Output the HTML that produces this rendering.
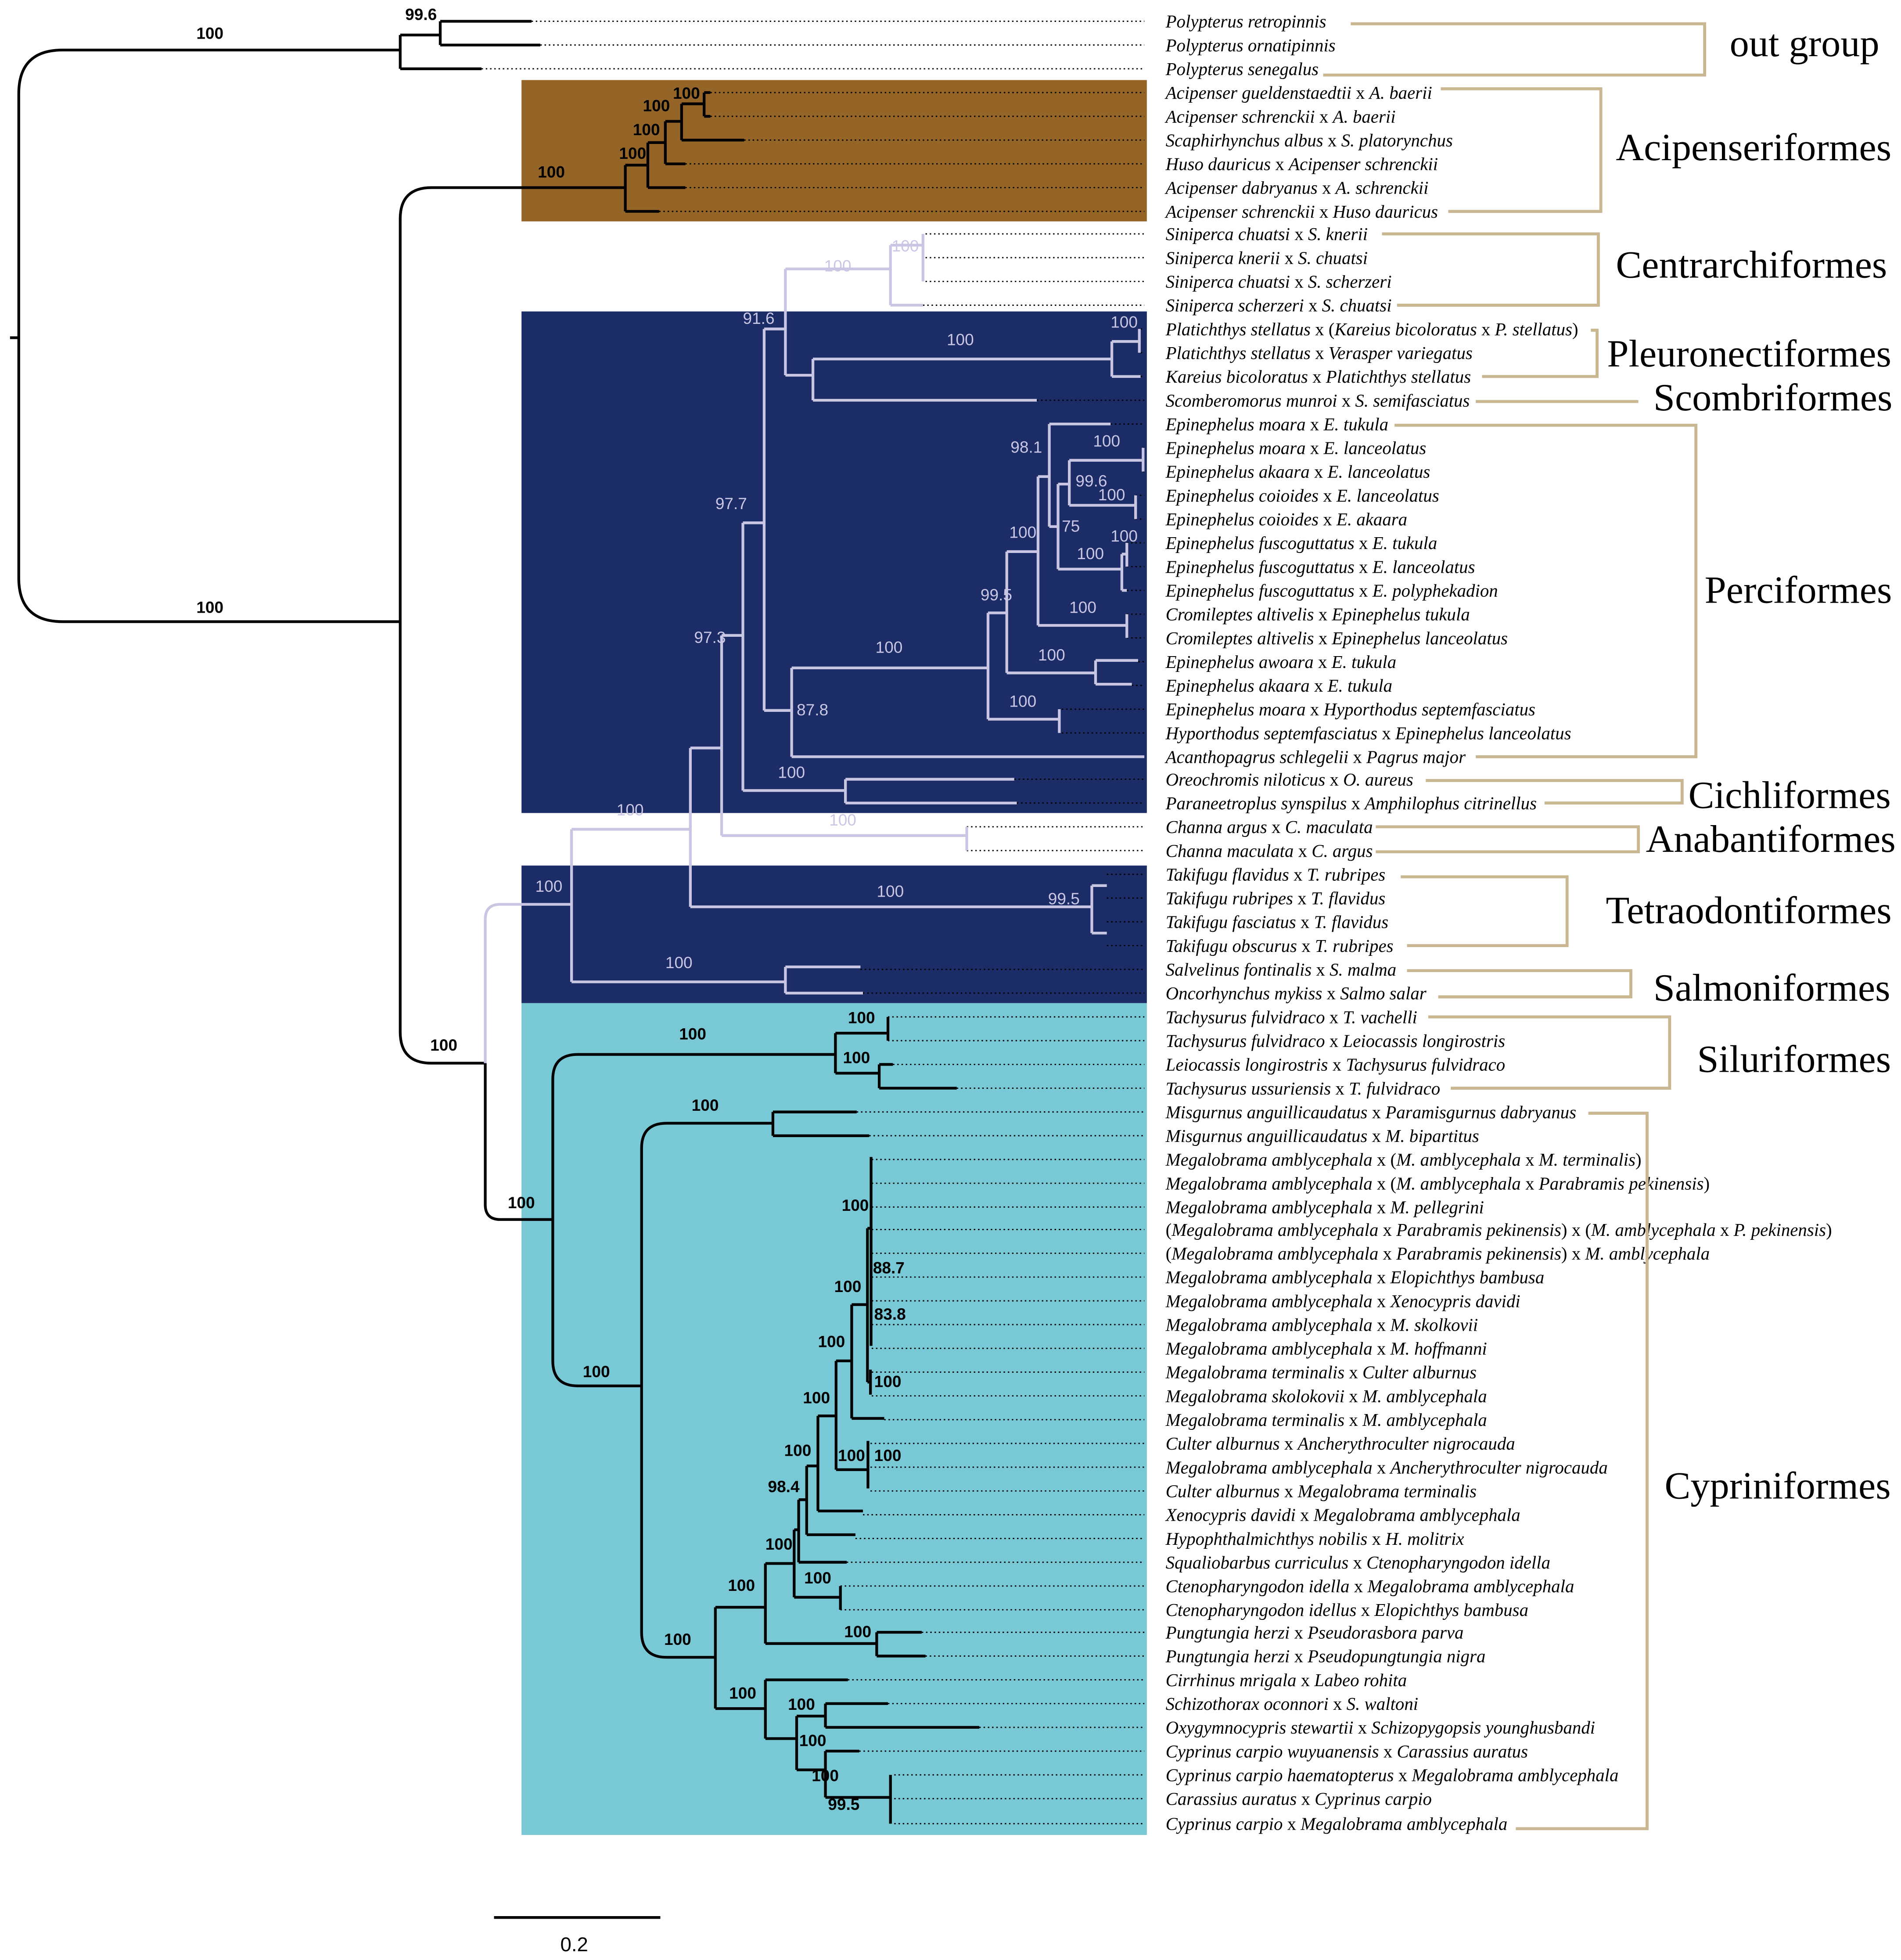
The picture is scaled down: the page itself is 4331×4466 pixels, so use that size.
<!DOCTYPE html>
<html><head><meta charset="utf-8"><style>
html,body{margin:0;padding:0;background:#fff}
svg{display:block}
.t{font-family:"Liberation Serif",serif;font-size:14.35px;font-style:italic}
.t tspan.x{font-style:normal}
.g{font-family:"Liberation Serif",serif;font-size:31px}
.b{font-family:"Liberation Sans",sans-serif;font-size:13px;font-weight:bold;fill:#000}
.l{font-family:"Liberation Sans",sans-serif;font-size:13px;fill:#cac7e6}
.k{fill:none;stroke:#000;stroke-width:2.2}
.v{fill:none;stroke:#c9c6e4;stroke-width:2.2}
.d{fill:none;stroke:#000;stroke-width:1;stroke-dasharray:1.2 2.2}
.br{fill:none;stroke:#c9b792;stroke-width:2.4}
</style></head><body>
<svg width="4331" height="4466" viewBox="0 0 1520 1567" preserveAspectRatio="none" xmlns="http://www.w3.org/2000/svg">
<rect x="417" y="64" width="500" height="113" fill="#956427"/>
<rect x="417" y="249" width="500" height="401" fill="#1c2c66"/>
<rect x="417" y="692" width="500" height="110" fill="#1c2c66"/>
<rect x="417" y="802" width="500" height="665" fill="#78c8d6"/>

<path class="d" d="M425 17H915M432 36H915M385 55H915M568 74H915M568 93H915M595 112H915M548 131H915M548 150H915M527 169H915M740 187H915M740 206H915M740 225H915M738 244H915M912 263H915M912 282H915M912 301H915M829 320H915M888 339H915M914 358H915M914 377H915M908 396H915M908 415H915M901 434H915M901 453H915M901 472H915M901 491H915M901 510H915M910 529H915M905 548H915M849 567H915M849 586H915M811 623H915M813 642H915M773 661H915M773 680H915M885 699H915M885 718H915M885 737H915M885 756H915M688 775H915M690 794H915M710 813H915M710 832H915M714 851H915M765 870H915M685 889H915M695 908H915M697 927H915M697 946H915M697 965H915M697 983H915M697 1002H915M697 1021H915M697 1040H915M697 1059H915M697 1078H915M697 1097H915M697 1116H915M707 1135H915M696 1154H915M696 1173H915M696 1192H915M690 1211H915M684 1230H915M677 1249H915M672 1268H915M672 1287H915M737 1305H915M740 1324H915M678 1343H915M710 1362H915M783 1381H915M687 1400H915M715 1419H915M715 1438H915M715 1458H915"/>

<path class="k" d="M8 270H15M320 40H50Q15 40 15 75V462Q15 497 50 497H320"/>
<path class="k" d="M320 28V55M320 28H352M352 17V36M352 17H425M352 36H432M320 55H385"/>
<path class="k" d="M500 150H345Q320 150 320 175V825Q320 850 345 850H388M388 850V963Q388 975 400 975H442"/>
<path class="k" d="M500 132V169M500 169H527M500 132H518M518 114V150M518 150H548M518 114H532M532 97V131M532 131H548M532 97H545M545 83V112M545 112H595M545 83H563M563 74V93M563 74H568M563 93H568"/>
<path class="k" d="M668 843H462Q442 843 442 863V1088Q442 1108 462 1108H513M668 826V858M668 826H710M710 813V832M668 858H703M703 851V870M703 851H714M703 870H765"/>
<path class="k" d="M618 898H533Q513 898 513 918V1305Q513 1325 533 1325H572M618 889V908M618 889H685M618 908H695"/>
<path class="k" d="M572 1285V1366M572 1285H612M612 1250V1314M612 1250H635M612 1314H701M701 1305V1324M701 1305H737M701 1324H740M635 1223V1277M635 1223H638.6M635 1277H672M672 1268V1287M638.6 1199V1249M638.6 1249H677M638.6 1199H645M645 1172V1227M645 1227H684M645 1172H654M654 1132V1208M654 1208H690M654 1132H668.5M668.5 1088V1175M668.5 1175H694M694 1152V1190M668.5 1088H681M681 1043V1134M681 1134H707M681 1043H693.6M693.6 982V1105M693.6 1105H696M696 1095V1115M693.6 982H696.5M696.5 925V1076"/>
<path class="k" d="M572 1366H612M612 1343V1390M612 1343H678M612 1390H637M637 1372V1415M637 1372H660M660 1362V1381M660 1362H710M660 1381H783M637 1415H660M660 1400V1437M660 1400H687M660 1437H712M712 1419V1458"/>

<path class="v" d="M457 723H400Q388 723 388 735V850M457 663V785M457 663H552M457 785H628M628 773V794M628 773H688M628 794H690"/>
<path class="v" d="M552 598V725M552 725H873M873 708V746M873 708H885M873 746H885M552 598H577M577 508V668M577 668H773M773 661V680M577 508H594M594 418V632M594 632H676M676 623V642M676 623H811M676 642H813M594 418H611M611 263V568"/>
<path class="v" d="M611 263H628M628 215V300M628 215H712M712 196V244M712 244H738M712 196H738M738 187V225M628 300H650M650 287V320M650 320H829M650 287H889M889 273V301M889 301H912M889 273H911M911 263V282"/>
<path class="v" d="M611 568H633M633 534V605M633 605H915M633 534H790M790 490V575M790 575H847M847 567V586M790 490H805M805 441V538M805 538H876M876 528V547M876 528H910M876 547H905M805 441H830M830 381V500M830 500H901M901 491V510M830 381H839M839 339V421M839 339H888M839 421H846M846 387V455M846 455H897M897 443V472M897 472H901M897 443H901M901 434V453M846 387H855M855 368V404M855 368H914M914 358V377M855 404H908M908 396V415"/>

<text class="b" x="157" y="31">100</text>
<text class="b" x="324" y="16">99.6</text>
<text class="b" x="157" y="490">100</text>
<text class="b" x="538" y="79">100</text>
<text class="b" x="514" y="89">100</text>
<text class="b" x="506" y="108">100</text>
<text class="b" x="495" y="127">100</text>
<text class="b" x="430" y="142">100</text>
<text class="b" x="344" y="840">100</text>
<text class="b" x="406" y="966">100</text>
<text class="b" x="543" y="831">100</text>
<text class="b" x="678" y="818">100</text>
<text class="b" x="674" y="850">100</text>
<text class="b" x="553" y="888">100</text>
<text class="b" x="466" y="1101">100</text>
<text class="b" x="531" y="1315">100</text>
<text class="b" x="673" y="968">100</text>
<text class="b" x="698" y="1018">88.7</text>
<text class="b" x="667" y="1033">100</text>
<text class="b" x="699" y="1055">83.8</text>
<text class="b" x="654" y="1077">100</text>
<text class="b" x="699" y="1109">100</text>
<text class="b" x="642" y="1122">100</text>
<text class="b" x="670" y="1168">100</text>
<text class="b" x="699" y="1168">100</text>
<text class="b" x="627" y="1164">100</text>
<text class="b" x="614" y="1193">98.4</text>
<text class="b" x="612" y="1239">100</text>
<text class="b" x="643" y="1266">100</text>
<text class="b" x="582" y="1272">100</text>
<text class="b" x="675" y="1309">100</text>
<text class="b" x="583" y="1358">100</text>
<text class="b" x="630" y="1367">100</text>
<text class="b" x="639" y="1396">100</text>
<text class="b" x="649" y="1424">100</text>
<text class="b" x="662" y="1447">99.5</text>

<text class="l" x="713" y="201">100</text>
<text class="l" x="659" y="217">100</text>
<text class="l" x="594" y="259">91.6</text>
<text class="l" x="888" y="262">100</text>
<text class="l" x="757" y="276">100</text>
<text class="l" x="808" y="362">98.1</text>
<text class="l" x="874" y="357">100</text>
<text class="l" x="860" y="389">99.6</text>
<text class="l" x="878" y="400">100</text>
<text class="l" x="849" y="425">75</text>
<text class="l" x="888" y="433">100</text>
<text class="l" x="807" y="430">100</text>
<text class="l" x="861" y="447">100</text>
<text class="l" x="572" y="407">97.7</text>
<text class="l" x="784" y="480">99.5</text>
<text class="l" x="855" y="490">100</text>
<text class="l" x="555" y="514">97.3</text>
<text class="l" x="700" y="522">100</text>
<text class="l" x="830" y="528">100</text>
<text class="l" x="637" y="572">87.8</text>
<text class="l" x="807" y="565">100</text>
<text class="l" x="622" y="622">100</text>
<text class="l" x="493" y="652">100</text>
<text class="l" x="663" y="660">100</text>
<text class="l" x="428" y="713">100</text>
<text class="l" x="701" y="717">100</text>
<text class="l" x="838" y="723">99.5</text>
<text class="l" x="532" y="774">100</text>

<g class="t">
<text x="932" y="22">Polypterus retropinnis</text>
<text x="932" y="41">Polypterus ornatipinnis</text>
<text x="932" y="60">Polypterus senegalus</text>
<text x="932" y="79">Acipenser gueldenstaedtii<tspan class="x"> x </tspan>A. baerii</text>
<text x="932" y="98">Acipenser schrenckii<tspan class="x"> x </tspan>A. baerii</text>
<text x="932" y="117">Scaphirhynchus albus<tspan class="x"> x </tspan>S. platorynchus</text>
<text x="932" y="136">Huso dauricus<tspan class="x"> x </tspan>Acipenser schrenckii</text>
<text x="932" y="155">Acipenser dabryanus<tspan class="x"> x </tspan>A. schrenckii</text>
<text x="932" y="174">Acipenser schrenckii<tspan class="x"> x </tspan>Huso dauricus</text>
<text x="932" y="192">Siniperca chuatsi<tspan class="x"> x </tspan>S. knerii</text>
<text x="932" y="211">Siniperca knerii<tspan class="x"> x </tspan>S. chuatsi</text>
<text x="932" y="230">Siniperca chuatsi<tspan class="x"> x </tspan>S. scherzeri</text>
<text x="932" y="249">Siniperca scherzeri<tspan class="x"> x </tspan>S. chuatsi</text>
<text x="932" y="268">Platichthys stellatus<tspan class="x"> x (</tspan>Kareius bicoloratus<tspan class="x"> x </tspan>P. stellatus<tspan class="x">)</tspan></text>
<text x="932" y="287">Platichthys stellatus<tspan class="x"> x </tspan>Verasper variegatus</text>
<text x="932" y="306">Kareius bicoloratus<tspan class="x"> x </tspan>Platichthys stellatus</text>
<text x="932" y="325">Scomberomorus munroi<tspan class="x"> x </tspan>S. semifasciatus</text>
<text x="932" y="344">Epinephelus moara<tspan class="x"> x </tspan>E. tukula</text>
<text x="932" y="363">Epinephelus moara<tspan class="x"> x </tspan>E. lanceolatus</text>
<text x="932" y="382">Epinephelus akaara<tspan class="x"> x </tspan>E. lanceolatus</text>
<text x="932" y="401">Epinephelus coioides<tspan class="x"> x </tspan>E. lanceolatus</text>
<text x="932" y="420">Epinephelus coioides<tspan class="x"> x </tspan>E. akaara</text>
<text x="932" y="439">Epinephelus fuscoguttatus<tspan class="x"> x </tspan>E. tukula</text>
<text x="932" y="458">Epinephelus fuscoguttatus<tspan class="x"> x </tspan>E. lanceolatus</text>
<text x="932" y="477">Epinephelus fuscoguttatus<tspan class="x"> x </tspan>E. polyphekadion</text>
<text x="932" y="496">Cromileptes altivelis<tspan class="x"> x </tspan>Epinephelus tukula</text>
<text x="932" y="515">Cromileptes altivelis<tspan class="x"> x </tspan>Epinephelus lanceolatus</text>
<text x="932" y="534">Epinephelus awoara<tspan class="x"> x </tspan>E. tukula</text>
<text x="932" y="553">Epinephelus akaara<tspan class="x"> x </tspan>E. tukula</text>
<text x="932" y="572">Epinephelus moara<tspan class="x"> x </tspan>Hyporthodus septemfasciatus</text>
<text x="932" y="591">Hyporthodus septemfasciatus<tspan class="x"> x </tspan>Epinephelus lanceolatus</text>
<text x="932" y="610">Acanthopagrus schlegelii<tspan class="x"> x </tspan>Pagrus major</text>
<text x="932" y="628">Oreochromis niloticus<tspan class="x"> x </tspan>O. aureus</text>
<text x="932" y="647">Paraneetroplus synspilus<tspan class="x"> x </tspan>Amphilophus citrinellus</text>
<text x="932" y="666">Channa argus<tspan class="x"> x </tspan>C. maculata</text>
<text x="932" y="685">Channa maculata<tspan class="x"> x </tspan>C. argus</text>
<text x="932" y="704">Takifugu flavidus<tspan class="x"> x </tspan>T. rubripes</text>
<text x="932" y="723">Takifugu rubripes<tspan class="x"> x </tspan>T. flavidus</text>
<text x="932" y="742">Takifugu fasciatus<tspan class="x"> x </tspan>T. flavidus</text>
<text x="932" y="761">Takifugu obscurus<tspan class="x"> x </tspan>T. rubripes</text>
<text x="932" y="780">Salvelinus fontinalis<tspan class="x"> x </tspan>S. malma</text>
<text x="932" y="799">Oncorhynchus mykiss<tspan class="x"> x </tspan>Salmo salar</text>
<text x="932" y="818">Tachysurus fulvidraco<tspan class="x"> x </tspan>T. vachelli</text>
<text x="932" y="837">Tachysurus fulvidraco<tspan class="x"> x </tspan>Leiocassis longirostris</text>
<text x="932" y="856">Leiocassis longirostris<tspan class="x"> x </tspan>Tachysurus fulvidraco</text>
<text x="932" y="875">Tachysurus ussuriensis<tspan class="x"> x </tspan>T. fulvidraco</text>
<text x="932" y="894">Misgurnus anguillicaudatus<tspan class="x"> x </tspan>Paramisgurnus dabryanus</text>
<text x="932" y="913">Misgurnus anguillicaudatus<tspan class="x"> x </tspan>M. bipartitus</text>
<text x="932" y="932">Megalobrama amblycephala<tspan class="x"> x (</tspan>M. amblycephala<tspan class="x"> x </tspan>M. terminalis<tspan class="x">)</tspan></text>
<text x="932" y="951">Megalobrama amblycephala<tspan class="x"> x (</tspan>M. amblycephala<tspan class="x"> x </tspan>Parabramis pekinensis<tspan class="x">)</tspan></text>
<text x="932" y="970">Megalobrama amblycephala<tspan class="x"> x </tspan>M. pellegrini</text>
<text x="932" y="988"><tspan class="x">(</tspan>Megalobrama amblycephala<tspan class="x"> x </tspan>Parabramis pekinensis<tspan class="x">) x (</tspan>M. amblycephala<tspan class="x"> x </tspan>P. pekinensis<tspan class="x">)</tspan></text>
<text x="932" y="1007"><tspan class="x">(</tspan>Megalobrama amblycephala<tspan class="x"> x </tspan>Parabramis pekinensis<tspan class="x">) x </tspan>M. amblycephala</text>
<text x="932" y="1026">Megalobrama amblycephala<tspan class="x"> x </tspan>Elopichthys bambusa</text>
<text x="932" y="1045">Megalobrama amblycephala<tspan class="x"> x </tspan>Xenocypris davidi</text>
<text x="932" y="1064">Megalobrama amblycephala<tspan class="x"> x </tspan>M. skolkovii</text>
<text x="932" y="1083">Megalobrama amblycephala<tspan class="x"> x </tspan>M. hoffmanni</text>
<text x="932" y="1102">Megalobrama terminalis<tspan class="x"> x </tspan>Culter alburnus</text>
<text x="932" y="1121">Megalobrama skolokovii<tspan class="x"> x </tspan>M. amblycephala</text>
<text x="932" y="1140">Megalobrama terminalis<tspan class="x"> x </tspan>M. amblycephala</text>
<text x="932" y="1159">Culter alburnus<tspan class="x"> x </tspan>Ancherythroculter nigrocauda</text>
<text x="932" y="1178">Megalobrama amblycephala<tspan class="x"> x </tspan>Ancherythroculter nigrocauda</text>
<text x="932" y="1197">Culter alburnus<tspan class="x"> x </tspan>Megalobrama terminalis</text>
<text x="932" y="1216">Xenocypris davidi<tspan class="x"> x </tspan>Megalobrama amblycephala</text>
<text x="932" y="1235">Hypophthalmichthys nobilis<tspan class="x"> x </tspan>H. molitrix</text>
<text x="932" y="1254">Squaliobarbus curriculus<tspan class="x"> x </tspan>Ctenopharyngodon idella</text>
<text x="932" y="1273">Ctenopharyngodon idella<tspan class="x"> x </tspan>Megalobrama amblycephala</text>
<text x="932" y="1292">Ctenopharyngodon idellus<tspan class="x"> x </tspan>Elopichthys bambusa</text>
<text x="932" y="1310">Pungtungia herzi<tspan class="x"> x </tspan>Pseudorasbora parva</text>
<text x="932" y="1329">Pungtungia herzi<tspan class="x"> x </tspan>Pseudopungtungia nigra</text>
<text x="932" y="1348">Cirrhinus mrigala<tspan class="x"> x </tspan>Labeo rohita</text>
<text x="932" y="1367">Schizothorax oconnori<tspan class="x"> x </tspan>S. waltoni</text>
<text x="932" y="1386">Oxygymnocypris stewartii<tspan class="x"> x </tspan>Schizopygopsis younghusbandi</text>
<text x="932" y="1405">Cyprinus carpio wuyuanensis<tspan class="x"> x </tspan>Carassius auratus</text>
<text x="932" y="1424">Cyprinus carpio haematopterus<tspan class="x"> x </tspan>Megalobrama amblycephala</text>
<text x="932" y="1443">Carassius auratus<tspan class="x"> x </tspan>Cyprinus carpio</text>
<text x="932" y="1463">Cyprinus carpio<tspan class="x"> x </tspan>Megalobrama amblycephala</text>
</g>

<path class="br" d="M1080 19H1363V60H1058"/>
<path class="br" d="M1152 71H1280V169H1158"/>
<path class="br" d="M1105 187H1278V244H1117"/>
<path class="br" d="M1272 264H1277V301H1185"/>
<path class="br" d="M1180 321H1310"/>
<path class="br" d="M1115 340H1356V605H1180"/>
<path class="br" d="M1140 624H1345V642H1235"/>
<path class="br" d="M1100 661H1310V681H1100"/>
<path class="br" d="M1120 701H1253V756H1125"/>
<path class="br" d="M1125 776H1304V797H1150"/>
<path class="br" d="M1142 813H1335V870H1160"/>
<path class="br" d="M1270 890H1317V1462H1212"/>
<g class="g">
<text x="1383" y="45">out group</text>
<text x="1292" y="128">Acipenseriformes</text>
<text x="1292" y="222">Centrarchiformes</text>
<text x="1285" y="293">Pleuronectiformes</text>
<text x="1322" y="328">Scombriformes</text>
<text x="1363" y="482">Perciformes</text>
<text x="1350" y="646">Cichliformes</text>
<text x="1316" y="681">Anabantiformes</text>
<text x="1284" y="738">Tetraodontiformes</text>
<text x="1322" y="800">Salmoniformes</text>
<text x="1357" y="857">Siluriformes</text>
<text x="1331" y="1198">Cypriniformes</text>
</g>

<path d="M395 1533H528" stroke="#000" stroke-width="2.2"/>
<text x="448" y="1560" font-family="Liberation Sans, sans-serif" font-size="16">0.2</text>
</svg>
</body></html>
